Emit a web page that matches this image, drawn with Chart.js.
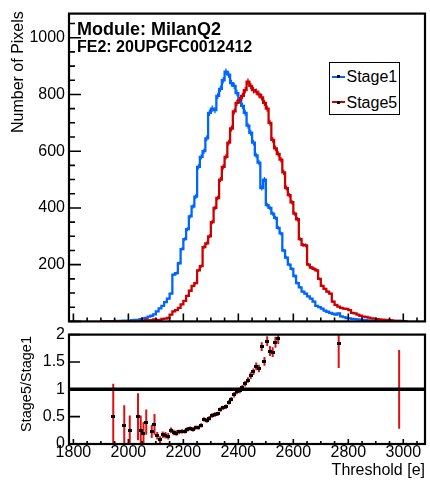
<!DOCTYPE html>
<html>
<head>
<meta charset="utf-8">
<title>Stage5 / Stage1 threshold</title>
<script src="https://cdn.jsdelivr.net/npm/chart.js@4.4.1/dist/chart.umd.min.js"></script>
<style>
  html, body { margin: 0; padding: 0; background: #fff; }
  body { position: relative; width: 430px; height: 481px; overflow: hidden;
         font-family: "Liberation Sans", Arial, Helvetica, sans-serif; color: #000; }
  canvas { position: absolute; left: 0; }
  #topChart { top: 0; }
  #ratioChart { top: 321px; }
  .txt { position: absolute; white-space: nowrap; line-height: 1; }
  .rot { transform-origin: 0 0; transform: rotate(-90deg); }
  #legend { position: absolute; left: 329px; top: 62px; width: 69px; height: 51px;
            border: 1.5px solid #000; background: #fff; }
  .key { position: absolute; left: 1.5px; width: 13px; height: 2px; }
  .key i { position: absolute; left: 5px; top: -0.5px; width: 3px; height: 3px; background: #111; }
  .entry { position: absolute; left: 16.5px; font-size: 16px; line-height: 1; }
</style>
</head>
<body>
<canvas id="topChart" width="430" height="335"></canvas>
<canvas id="ratioChart" width="430" height="160"></canvas>

<div class="txt" style="left:77px; top:20px; font-size:18px; font-weight:bold;">Module: MilanQ2</div>
<div class="txt" style="left:77px; top:38.5px; font-size:16px; font-weight:bold;">FE2: 20UPGFC0012412</div>

<div id="legend">
  <div class="key" style="top:12.5px; background:#0066ff;"><i></i></div>
  <div class="entry" style="top:5.5px;">Stage1</div>
  <div class="key" style="top:38px; background:#cc0000;"><i></i></div>
  <div class="entry" style="top:31.5px;">Stage5</div>
</div>

<div class="txt rot" style="left:10px; top:133px; font-size:16px;">Number of Pixels</div>
<div class="txt rot" style="left:19px; top:432px; font-size:14.5px;">Stage5/Stage1</div>
<div class="txt" style="right:5px; top:462px; font-size:16px;">Threshold [e]</div>

<script>
// histogram bin centres [e], 10 e wide
const binCenters = [
  1905, 1915, 1925, 1935, 1945, 1955, 1965, 1975, 1985, 1995,
  2005, 2015, 2025, 2035, 2045, 2055, 2065, 2075, 2085, 2095,
  2105, 2115, 2125, 2135, 2145, 2155, 2165, 2175, 2185, 2195,
  2205, 2215, 2225, 2235, 2245, 2255, 2265, 2275, 2285, 2295,
  2305, 2315, 2325, 2335, 2345, 2355, 2365, 2375, 2385, 2395,
  2405, 2415, 2425, 2435, 2445, 2455, 2465, 2475, 2485, 2495,
  2505, 2515, 2525, 2535, 2545, 2555, 2565, 2575, 2585, 2595,
  2605, 2615, 2625, 2635, 2645, 2655, 2665, 2675, 2685, 2695,
  2705, 2715, 2725, 2735, 2745, 2755, 2765, 2775, 2785, 2795,
  2805, 2815, 2825, 2835, 2845, 2855, 2865, 2875, 2885, 2895,
  2905, 2915, 2925, 2935, 2945, 2955, 2965, 2975, 2985, 2995,
  3005, 3015
];

const stage1Counts = [
  0, 0, 0, 1, 1, 2, 1, 2, 3, 3,
  2, 4, 5, 4, 8, 11, 12, 17, 20, 25,
  35, 46, 55, 68, 80, 98, 165, 170, 205, 255,
  290, 325, 370, 405, 440, 545, 580, 600, 645, 735,
  750, 745, 795, 820, 850, 880, 870, 840, 830, 805,
  780, 760, 735, 690, 665, 630, 585, 560, 470, 500,
  410, 400, 380, 365, 330, 310, 250, 225, 200, 185,
  160, 135, 120, 105, 98, 88, 80, 70, 55, 50,
  45, 38, 34, 30, 27, 24, 28, 18, 15, 12,
  11, 9, 8, 7, 6, 5, 4, 3, 3, 2,
  2, 1, 1, 1, 0, 1, 0, 0, 2, 0,
  0, 0
];

const stage5Counts = [
  0, 0, 0, 0, 1, 0, 0, 0, 1, 0,
  1, 0, 0, 2, 2, 2, 5, 3, 4, 7,
  5, 4, 9, 10, 12, 24, 35, 40, 48, 60,
  72, 90, 108, 125, 135, 180, 195, 262, 275, 300,
  350, 400, 435, 500, 545, 580, 630, 680, 740, 770,
  780, 795, 815, 845, 830, 815, 810, 800, 790, 770,
  750, 700, 640, 610, 590, 570, 525, 470, 445, 420,
  380, 360, 290, 270, 268, 200, 190, 185, 180, 150,
  125, 115, 105, 98, 70, 58, 52, 48, 45, 44,
  40, 30, 28, 24, 20, 17, 16, 13, 11, 10,
  8, 7, 6, 5, 5, 4, 3, 2, 2, 1,
  1, 0
];

// ratio panel points (only bins inside 0..2 are shown)
const ratioX = [
  1945, 1985, 2005, 2035, 2045, 2055, 2065, 2085, 2095, 2105,
  2115, 2125, 2135, 2145, 2155, 2165, 2175, 2185, 2195, 2205,
  2215, 2225, 2235, 2245, 2255, 2265, 2275, 2285, 2295, 2305,
  2315, 2325, 2335, 2345, 2355, 2365, 2375, 2385, 2395, 2405,
  2415, 2425, 2435, 2445, 2455, 2465, 2475, 2485, 2495, 2505,
  2515, 2525, 2535, 2545, 2765, 2985
];
const ratioVal = [
  0.5, 0.33, 0.25, 0.5, 0.25, 0.2, 0.4, 0.23, 0.36, 0.15,
  0.08, 0.17, 0.16, 0.14, 0.25, 0.21, 0.2, 0.22, 0.23, 0.23,
  0.27, 0.28, 0.27, 0.3, 0.3, 0.34, 0.45, 0.43, 0.47, 0.52,
  0.54, 0.55, 0.63, 0.66, 0.68, 0.76, 0.82, 0.9, 0.96, 0.98,
  1.03, 1.1, 1.17, 1.25, 1.32, 1.42, 1.38, 1.78, 1.51, 1.88,
  1.7, 1.68, 1.86, 1.93, 1.84, 1.0
];
const ratioErr = [
  0.6, 0.38, 0.27, 0.43, 0.27, 0.2, 0.23, 0.12, 0.19, 0.07,
  0.06, 0.06, 0.06, 0.06, 0.05, 0.05, 0.05, 0.04, 0.04, 0.04,
  0.04, 0.04, 0.04, 0.04, 0.04, 0.04, 0.04, 0.04, 0.04, 0.04,
  0.04, 0.04, 0.04, 0.04, 0.04, 0.04, 0.04, 0.05, 0.05, 0.05,
  0.05, 0.05, 0.05, 0.06, 0.06, 0.07, 0.07, 0.08, 0.08, 0.09,
  0.09, 0.09, 0.1, 0.1, 0.45, 0.72
];

const xTickValues = [1800, 2000, 2200, 2400, 2600, 2800, 3000];
const countTickValues = [200, 400, 600, 800, 1000];
const ratioTickValues = [0, 0.5, 1, 1.5, 2];

const errScale = 0.4;

Chart.defaults.font.family = '"Liberation Sans", Arial, Helvetica, sans-serif';
Chart.defaults.font.size = 16;
Chart.defaults.color = "#000";

// ROOT style frame with inward ticks
const rootAxes = {
  id: "rootAxes",
  afterDatasetsDraw(chart, args, o) {
    const { ctx, chartArea: a } = chart;
    const xs = chart.scales.x, ys = chart.scales.y;
    ctx.save();
    ctx.strokeStyle = "#000";
    ctx.lineWidth = 1.6;
    ctx.beginPath();
    for (let i = 0; ; i++) {
      const v = o.xStart + i * o.xMinor;
      if (v > xs.max) break;
      const px = xs.getPixelForValue(v);
      const len = i % o.xEvery === 0 ? o.xMajorLen : o.xMinorLen;
      ctx.moveTo(px, a.bottom);
      ctx.lineTo(px, a.bottom - len);
    }
    for (let i = 0; ; i++) {
      const v = o.yStart + i * o.yMinor;
      if (v > ys.max + 1e-9) break;
      const py = ys.getPixelForValue(v);
      const len = i % o.yEvery === 0 ? o.yMajorLen : o.yMinorLen;
      ctx.moveTo(a.left, py);
      ctx.lineTo(a.left + len, py);
    }
    ctx.stroke();
    ctx.lineWidth = 2.2;
    ctx.strokeRect(a.left, a.top, a.right - a.left, a.bottom - a.top);
    ctx.restore();
  }
};

// small vertical error bars on the histograms
const histErrors = {
  id: "histErrors",
  afterDatasetsDraw(chart) {
    const { ctx, chartArea: a } = chart;
    const xs = chart.scales.x, ys = chart.scales.y;
    ctx.save();
    ctx.beginPath();
    ctx.rect(a.left, a.top, a.right - a.left, a.bottom - a.top);
    ctx.clip();
    chart.data.datasets.forEach((ds) => {
      ctx.strokeStyle = ds.borderColor;
      ctx.lineWidth = 1.3;
      ctx.beginPath();
      ds.data.forEach((p) => {
        if (p.y <= 0) return;
        const e = Math.sqrt(p.y) * errScale;
        const px = xs.getPixelForValue(p.x);
        ctx.moveTo(px, ys.getPixelForValue(p.y - e));
        ctx.lineTo(px, ys.getPixelForValue(p.y + e));
      });
      ctx.stroke();
    });
    ctx.restore();
  }
};

// ratio error bars + the line at 1
const ratioDecor = {
  id: "ratioDecor",
  beforeDatasetsDraw(chart) {
    const { ctx, chartArea: a } = chart;
    const xs = chart.scales.x, ys = chart.scales.y;
    ctx.save();
    ctx.beginPath();
    ctx.rect(a.left, a.top, a.right - a.left, a.bottom - a.top);
    ctx.clip();
    ctx.strokeStyle = "#dd1111";
    ctx.lineWidth = 2;
    ctx.beginPath();
    ratioX.forEach((x, i) => {
      const px = xs.getPixelForValue(x);
      ctx.moveTo(px, ys.getPixelForValue(ratioVal[i] - ratioErr[i]));
      ctx.lineTo(px, ys.getPixelForValue(ratioVal[i] + ratioErr[i]));
    });
    ctx.stroke();
    const y1 = ys.getPixelForValue(1);
    ctx.strokeStyle = "#000";
    ctx.lineWidth = 3.5;
    ctx.beginPath();
    ctx.moveTo(a.left, y1);
    ctx.lineTo(a.right, y1);
    ctx.stroke();
    ctx.restore();
  }
};

const xMin = 1784, xMax = 3079;
const noGrid = { display: false, drawTicks: false, tickLength: 0 };

new Chart(document.getElementById("topChart"), {
  type: "line",
  data: {
    datasets: [
      {
        label: "Stage1",
        data: binCenters.map((x, i) => ({ x: x, y: stage1Counts[i] })),
        borderColor: "#0066ff",
        borderWidth: 2.3,
        stepped: "middle",
        pointRadius: 0,
        fill: false,
        order: 2,
      },
      {
        label: "Stage5",
        data: binCenters.map((x, i) => ({ x: x, y: stage5Counts[i] })),
        borderColor: "#cc0000",
        borderWidth: 2.3,
        stepped: "middle",
        pointRadius: 0,
        fill: false,
        order: 1,
      },
    ],
  },
  options: {
    responsive: false,
    animation: false,
    layout: { padding: { top: 8, right: 5, bottom: 5, left: 0 } },
    scales: {
      x: { type: "linear", min: xMin, max: xMax, display: false },
      y: {
        min: 0,
        max: 1085,
        grid: noGrid,
        border: { display: false },
        ticks: { padding: 4, autoSkip: false, callback: (v) => String(v) },
        afterBuildTicks: (s) => { s.ticks = countTickValues.map((v) => ({ value: v })); },
        afterFit: (s) => { s.width = 69; },
      },
    },
    plugins: {
      legend: { display: false },
      tooltip: { enabled: false },
      rootAxes: {
        xStart: 1800, xMinor: 50, xEvery: 4, xMajorLen: 8, xMinorLen: 4,
        yStart: 0, yMinor: 50, yEvery: 4, yMajorLen: 12, yMinorLen: 6,
      },
    },
  },
  plugins: [histErrors, rootAxes],
});

const marker = document.createElement("canvas");
marker.width = 4;
marker.height = 3;
const mctx = marker.getContext("2d");
mctx.fillStyle = "#000";
mctx.fillRect(0, 0, 4, 3);

new Chart(document.getElementById("ratioChart"), {
  type: "scatter",
  data: {
    datasets: [
      {
        label: "Stage5/Stage1",
        data: ratioX.map((x, i) => ({ x: x, y: ratioVal[i] })),
        pointStyle: marker,
        pointRadius: 2,
        backgroundColor: "#000",
        borderColor: "#000",
      },
    ],
  },
  options: {
    responsive: false,
    animation: false,
    layout: { padding: { top: 10, right: 5, bottom: 0, left: 0 } },
    scales: {
      x: {
        type: "linear",
        min: xMin,
        max: xMax,
        grid: noGrid,
        border: { display: false },
        ticks: { padding: -1, autoSkip: false, maxRotation: 0, callback: (v) => String(v) },
        afterBuildTicks: (s) => { s.ticks = xTickValues.map((v) => ({ value: v })); },
        afterFit: (s) => { s.height = 37; },
      },
      y: {
        min: 0,
        max: 2,
        grid: noGrid,
        border: { display: false },
        ticks: { padding: 4, autoSkip: false, callback: (v) => String(v) },
        afterBuildTicks: (s) => { s.ticks = ratioTickValues.map((v) => ({ value: v })); },
        afterFit: (s) => { s.width = 69; },
      },
    },
    plugins: {
      legend: { display: false },
      tooltip: { enabled: false },
      rootAxes: {
        xStart: 1800, xMinor: 50, xEvery: 4, xMajorLen: 5, xMinorLen: 3,
        yStart: 0, yMinor: 0.5, yEvery: 1, yMajorLen: 11, yMinorLen: 11,
      },
    },
  },
  plugins: [ratioDecor, rootAxes],
});
</script>
</body>
</html>
